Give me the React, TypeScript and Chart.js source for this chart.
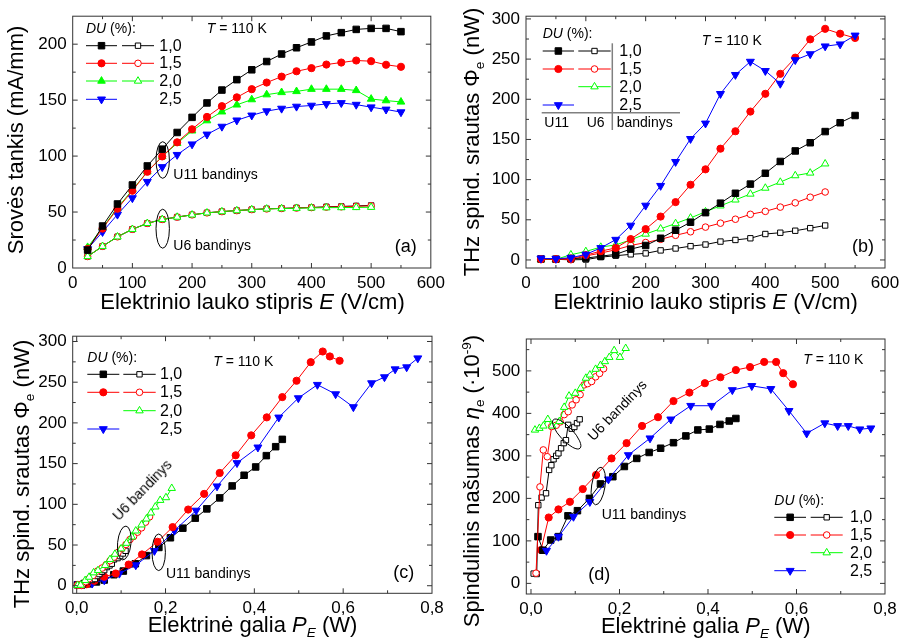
import React, { useEffect, useRef } from 'react';
import { Chart, registerables } from 'chart.js';
Chart.register(...registerables);

const FONT = '"Liberation Sans", Arial, Helvetica, sans-serif';

// ---------------- data ----------------
const E_U11 = [25, 50, 75, 100, 125, 150, 175, 200, 225, 250, 275, 300, 325, 350, 375, 400, 425, 450, 475, 500, 525, 550];
const E_U6 = [25, 50, 75, 100, 125, 150, 175, 200, 225, 250, 275, 300, 325, 350, 375, 400, 425, 450, 475, 500];

// current density J (mA/mm), panel (a)
const J_U11_10 = [16, 37.5, 57.2, 74.2, 91.2, 106.2, 121.1, 134.6, 147.5, 159, 168.3, 177.1, 184.5, 191.2, 196.8, 202, 207.4, 210.3, 213.2, 214.1, 214.1, 211.2];
const J_U11_15 = [17, 35.2, 53, 69, 86, 99.7, 112.3, 124, 135, 144.6, 152.5, 159.8, 165.7, 171, 175.8, 178.6, 181.8, 183.6, 185.4, 184.8, 181.6, 179.8];
const J_U11_20 = [18.5, 36, 53.7, 69.8, 86, 99.7, 111.4, 122.6, 131.7, 139.6, 145.8, 150.5, 154.9, 156.9, 157.8, 159.8, 159.8, 159.8, 158.7, 151, 149.6, 148.4];
const J_U11_25 = [17, 32.3, 47.8, 62.5, 77.1, 90.3, 101.2, 110.6, 119.4, 126.4, 132, 136.4, 140.2, 142.5, 144.3, 145.2, 146.6, 147.5, 146, 143.7, 141.7, 139.3];
const J_U6_10 = [10.3, 19.4, 27.9, 34.6, 39.9, 43.4, 45.5, 47.5, 49.3, 50.4, 51.3, 52.2, 52.9, 53.3, 53.7, 54.1, 54.7, 55.0, 55.5, 55.9];
const J_U6_15 = [10.3, 19.4, 27.9, 34.6, 39.9, 43.4, 45.5, 47.5, 49.3, 50.4, 51.3, 52.2, 52.8, 53.2, 53.6, 54.0, 54.4, 54.7, 55.1, 55.5];
const J_U6_20 = [10.3, 19.4, 27.9, 34.6, 39.9, 43.4, 45.5, 47.5, 49.3, 50.4, 51.3, 52.2, 52.8, 53.1, 53.4, 53.7, 53.9, 54.0, 54.1, 54.3];

// THz flux Phi_e (nW), panels (b) and (c)
const F_U11_10 = [1.2, 1.0, 1.9, 2.3, 4.7, 7.0, 13.5, 18, 27, 37, 47, 58.9, 70.7, 83, 94.4, 107.9, 122.6, 135.7, 145.9, 159.8, 170.8, 179.8];
const F_U11_15 = [1, 1, 1.8, 6, 11, 15, 26, 38.4, 54, 72, 93.6, 112.8, 138.5, 160.2, 184.7, 206.8, 231.7, 251.8, 274.6, 287.7, 281.6, 276.3];
const F_U11_25 = [2, 1.6, 2.8, 6.9, 15, 25.3, 42.9, 67.8, 92.4, 122.2, 150.8, 170, 206.8, 230.5, 246.9, 235.4, 219.5, 248.9, 256.3, 266, 268.5, 279.5];
const F_U6_10 = [0.8, 0.8, 0.2, 0.5, 3.5, 5.3, 7, 8.2, 11.9, 14.3, 17.2, 19.2, 22.9, 24.9, 27, 32.3, 33.9, 36.4, 39.6, 42.9];
const F_U6_15 = [0.4, 1, 0.3, 5, 8.6, 12.7, 18, 21.7, 25.7, 30.7, 35.1, 40.9, 45.8, 50.7, 56.8, 60.5, 65.8, 71.1, 78.1, 84.6];
const F_U6_20 = [0.4, 0.8, 6.5, 10.6, 16, 18.8, 25, 32.3, 38.8, 45.4, 52.3, 60, 67.4, 74.8, 82.1, 89.5, 96.9, 105, 108.3, 119.7];

// electric power P_E (W), panels (c) and (d)
const P_U11_10 = [0.0016, 0.0075, 0.0158, 0.027, 0.0445, 0.062, 0.0836, 0.105, 0.132, 0.157, 0.185, 0.211, 0.239, 0.267, 0.293, 0.322, 0.350, 0.377, 0.403, 0.427, 0.448, 0.463];
const P_U11_15 = [0.0026, 0.0106, 0.0226, 0.040, 0.062, 0.088, 0.117, 0.147, 0.182, 0.216, 0.251, 0.287, 0.322, 0.358, 0.393, 0.428, 0.463, 0.495, 0.527, 0.554, 0.570, 0.592];
const P_U11_25 = [0.0043, 0.016, 0.035, 0.062, 0.096, 0.133, 0.175, 0.22, 0.269, 0.316, 0.361, 0.408, 0.455, 0.499, 0.542, 0.583, 0.623, 0.664, 0.693, 0.717, 0.743, 0.768];
const P_U6_10 = [0.001, 0.0035, 0.006, 0.013, 0.0165, 0.024, 0.034, 0.041, 0.046, 0.051, 0.057, 0.062, 0.068, 0.074, 0.079, 0.084, 0.092, 0.098, 0.104, 0.110];
const P_U6_15 = [0.0016, 0.0058, 0.0113, 0.0203, 0.0278, 0.0368, 0.0467, 0.057, 0.066, 0.075, 0.084, 0.093, 0.102, 0.111, 0.12, 0.128, 0.137, 0.146, 0.155, 0.164];
const P_U6_20 = [0.002, 0.009, 0.019, 0.028, 0.038, 0.048, 0.064, 0.075, 0.086, 0.1, 0.112, 0.124, 0.133, 0.146, 0.157, 0.167, 0.177, 0.188, 0.201, 0.214];

// radiative efficiency eta_e (x1e-9), panel (d); first shown point index
const ETA_U11_10_START = 2;
const ETA_U11_10 = [110, 78, 102, 110, 159, 171, 200, 234, 251, 275, 294, 308, 318, 331, 347, 361, 363, 374, 382, 388];
const ETA_U11_15_START = 2;
const ETA_U11_15 = [78.5, 155, 174, 192, 222, 255, 294, 330, 370.5, 391, 429, 449, 471, 485, 502, 509, 521, 521, 494.6, 468.6];
const ETA_U11_25_START = 2;
const ETA_U11_25 = [77, 110, 157, 192, 245, 302, 341.5, 386, 418, 418, 455, 464.7, 457.7, 406, 353, 377, 370.5, 370.5, 362.7, 365];
const ETA_U6_10_START = 2;
const ETA_U6_10 = [23, 22, 184, 202, 212, 267, 278, 292, 300, 306, 318, 330, 337, 373, 364, 368, 377, 386];
const ETA_U6_15_START = 2;
const ETA_U6_15 = [24, 227, 314, 298, 369, 372, 380, 397, 404, 420, 432, 444, 467, 470, 475, 486, 494, 505];
const ETA_U6_20_START = 1;
const ETA_U6_20 = [361, 365, 370.5, 386, 370.5, 381, 414.5, 441, 447.5, 459, 483, 490.6, 504, 513, 522, 532, 548, 532, 553];

const DU_LABELS = ['1,0', '1,5', '2,0', '2,5'];

// axis tick values
const TICKS_E = [0, 100, 200, 300, 400, 500, 600];
const TICKS_J = [0, 50, 100, 150, 200];
const TICKS_F = [0, 50, 100, 150, 200, 250, 300];
const TICKS_P = [0, 0.2, 0.4, 0.6, 0.8];
const TICKS_ETA = [0, 100, 200, 300, 400, 500];

// ---------------- styles ----------------
type Shape = 'rect' | 'circle' | 'triangle' | 'down';
interface St { color: string; shape: Shape; filled: boolean; r: number }
const ST: Record<string, St> = {
  b11: { color: '#000000', shape: 'rect', filled: true, r: 4.6 },
  r11: { color: '#ff0000', shape: 'circle', filled: true, r: 3.6 },
  g11: { color: '#00ff00', shape: 'triangle', filled: true, r: 4.4 },
  bl11: { color: '#0000ff', shape: 'down', filled: true, r: 4.6 },
  b6: { color: '#000000', shape: 'rect', filled: false, r: 3.8 },
  r6: { color: '#ff0000', shape: 'circle', filled: false, r: 3.3 },
  g6: { color: '#00ff00', shape: 'triangle', filled: false, r: 4.3 },
};

function ds(xs: number[], ys: number[], st: St, order: number, start = 0) {
  const data = ys.map((y, i) => ({ x: xs[i + start], y }));
  return {
    data,
    showLine: true,
    borderColor: st.color,
    borderWidth: 1,
    pointStyle: st.shape === 'down' ? 'triangle' : st.shape,
    pointRotation: st.shape === 'down' ? 180 : 0,
    pointRadius: st.r,
    pointHoverRadius: st.r,
    pointBackgroundColor: st.filled ? st.color : '#ffffff',
    pointBorderColor: st.color,
    pointBorderWidth: 1,
    tension: 0,
    fill: false,
    order,
  };
}

function drawMarker(ctx: CanvasRenderingContext2D, st: St, x: number, y: number) {
  const r = st.r;
  ctx.beginPath();
  if (st.shape === 'rect') {
    const s = Math.SQRT1_2 * r;
    ctx.rect(x - s, y - s, 2 * s, 2 * s);
  } else if (st.shape === 'circle') {
    ctx.arc(x, y, r, 0, Math.PI * 2);
  } else {
    const d = st.shape === 'down' ? -1 : 1;
    ctx.moveTo(x, y - d * r);
    ctx.lineTo(x + 0.866 * r, y + d * 0.5 * r);
    ctx.lineTo(x - 0.866 * r, y + d * 0.5 * r);
    ctx.closePath();
  }
  ctx.fillStyle = st.filled ? st.color : '#ffffff';
  ctx.fill();
  ctx.strokeStyle = st.color;
  ctx.lineWidth = 1;
  ctx.stroke();
}

interface LegendRow { y: number; s1?: string; s2?: string }
interface PanelSpec {
  id: string;
  left: number; top: number; w: number; h: number;
  yW: number; xH: number; padTop: number; padRight: number;
  x: { min: number; max: number; ticks: number[]; dec: number };
  y: { min: number; max: number; ticks: number[] };
  datasets: any[];
  legend: { rows: LegendRow[]; seg1: [number, number]; seg2: [number, number] };
  ellipses: { cx: number; cy: number; rx: number; ry: number; rot: number }[];
  lines?: [number, number, number, number][];
}

function makePlugin(p: PanelSpec) {
  return {
    id: 'deco' + p.id,
    afterDraw(chart: any) {
      const ctx: CanvasRenderingContext2D = chart.ctx;
      const a = chart.chartArea;
      ctx.save();
      ctx.strokeStyle = '#333333';
      ctx.lineWidth = 1;
      const doTicks = (scale: any, majors: number[], horiz: boolean) => {
        const step = majors[1] - majors[0];
        const minors: number[] = [];
        for (let k = -1; k < majors.length + 1; k++) {
          const v = majors[0] + (k + 0.5) * step;
          if (v > scale.min + 1e-9 && v < scale.max - 1e-9) minors.push(v);
        }
        const draw = (v: number, len: number) => {
          const px = scale.getPixelForValue(v);
          ctx.beginPath();
          if (horiz) {
            ctx.moveTo(px, a.bottom); ctx.lineTo(px, a.bottom - len);
            ctx.moveTo(px, a.top); ctx.lineTo(px, a.top + len);
          } else {
            ctx.moveTo(a.left, px); ctx.lineTo(a.left + len, px);
            ctx.moveTo(a.right, px); ctx.lineTo(a.right - len, px);
          }
          ctx.stroke();
        };
        majors.filter((v) => v > scale.min && v < scale.max).forEach((v) => draw(v, 5));
        minors.forEach((v) => draw(v, 3));
      };
      doTicks(chart.scales.x, p.x.ticks, true);
      doTicks(chart.scales.y, p.y.ticks, false);
      ctx.strokeRect(a.left, a.top, a.right - a.left, a.bottom - a.top);

      // legend samples
      const ox = p.left, oy = p.top;
      p.legend.rows.forEach((row) => {
        const y = row.y - oy;
        ([['s1', p.legend.seg1], ['s2', p.legend.seg2]] as const).forEach(([k, seg]) => {
          const key = (row as any)[k];
          if (!key) return;
          const st = ST[key];
          ctx.beginPath();
          ctx.strokeStyle = st.color;
          ctx.lineWidth = 1;
          ctx.moveTo(seg[0] - ox, y);
          ctx.lineTo(seg[1] - ox, y);
          ctx.stroke();
          drawMarker(ctx, st, (seg[0] + seg[1]) / 2 - ox, y);
        });
      });
      if (p.lines) {
        ctx.strokeStyle = '#808080';
        ctx.lineWidth = 1.5;
        p.lines.forEach(([x1, y1, x2, y2]) => {
          ctx.beginPath();
          ctx.moveTo(x1 - ox, y1 - oy);
          ctx.lineTo(x2 - ox, y2 - oy);
          ctx.stroke();
        });
      }
      ctx.strokeStyle = '#000000';
      ctx.lineWidth = 1;
      p.ellipses.forEach((e) => {
        ctx.beginPath();
        ctx.ellipse(e.cx - ox, e.cy - oy, e.rx, e.ry, e.rot, 0, Math.PI * 2);
        ctx.stroke();
      });
      ctx.restore();
    },
  };
}

function makeConfig(p: PanelSpec): any {
  const tickFont = { family: FONT, size: 17 };
  const fmt = (v: number) => (p.x.dec > 0 ? v.toFixed(p.x.dec).replace('.', ',') : String(Math.round(v)));
  return {
    type: 'scatter',
    data: { datasets: p.datasets },
    options: {
      animation: false,
      responsive: false,
      maintainAspectRatio: false,
      events: [],
      layout: { padding: { left: 0, top: p.padTop, right: p.padRight, bottom: 0 } },
      plugins: { legend: { display: false }, tooltip: { enabled: false } },
      scales: {
        x: {
          type: 'linear',
          min: p.x.min,
          max: p.x.max,
          afterBuildTicks: (s: any) => { s.ticks = p.x.ticks.map((v) => ({ value: v })); },
          ticks: { font: tickFont, color: '#000', padding: 5, maxRotation: 0, autoSkip: false, callback: (v: number) => fmt(v) },
          grid: { display: false, drawTicks: false },
          border: { display: false },
          afterFit: (s: any) => { s.height = p.xH; },
        },
        y: {
          type: 'linear',
          min: p.y.min,
          max: p.y.max,
          afterBuildTicks: (s: any) => { s.ticks = p.y.ticks.map((v) => ({ value: v })); },
          ticks: { font: tickFont, color: '#000', padding: 6, autoSkip: false, callback: (v: number) => String(Math.round(v)) },
          grid: { display: false, drawTicks: false },
          border: { display: false },
          afterFit: (s: any) => { s.width = p.yW; },
        },
      },
    },
    plugins: [makePlugin(p)],
  };
}

// ---------------- panels ----------------
const PANEL_A: PanelSpec = {
  id: 'a', left: 0, top: 0, w: 450, h: 320, yW: 72.7, xH: 52, padTop: 12, padRight: 18,
  x: { min: 0, max: 600, ticks: TICKS_E, dec: 0 }, y: { min: 0, max: 225, ticks: TICKS_J },
  datasets: [
    ds(E_U11, J_U11_10, ST.b11, 0),
    ds(E_U11, J_U11_15, ST.r11, 1),
    ds(E_U11, J_U11_20, ST.g11, 2),
    ds(E_U11, J_U11_25, ST.bl11, 3),
    ds(E_U6, J_U6_20, ST.g6, 4),
    ds(E_U6, J_U6_15, ST.r6, 5),
    ds(E_U6, J_U6_10, ST.b6, 6),
  ],
  legend: { rows: [{ y: 45.7, s1: 'b11', s2: 'b6' }, { y: 63.3, s1: 'r11', s2: 'r6' }, { y: 81, s1: 'g11', s2: 'g6' }, { y: 99.3, s1: 'bl11' }], seg1: [86, 117], seg2: [122, 154] },
  ellipses: [{ cx: 162.7, cy: 160, rx: 6.7, ry: 18.3, rot: 0 }, { cx: 162.7, cy: 228.7, rx: 6.7, ry: 19.5, rot: 0 }],
};

const PANEL_B: PanelSpec = {
  id: 'b', left: 450, top: 0, w: 455, h: 320, yW: 76, xH: 52, padTop: 12, padRight: 20,
  x: { min: 0, max: 600, ticks: TICKS_E, dec: 0 }, y: { min: -10, max: 303.4, ticks: TICKS_F },
  datasets: [
    ds(E_U11, F_U11_25, ST.bl11, 0),
    ds(E_U11, F_U11_15, ST.r11, 1),
    ds(E_U11, F_U11_10, ST.b11, 2),
    ds(E_U6, F_U6_20, ST.g6, 3),
    ds(E_U6, F_U6_15, ST.r6, 4),
    ds(E_U6, F_U6_10, ST.b6, 5),
  ],
  legend: { rows: [{ y: 51, s1: 'b11', s2: 'b6' }, { y: 69, s1: 'r11', s2: 'r6' }, { y: 86.7, s2: 'g6' }, { y: 105, s1: 'bl11' }], seg1: [542.7, 574], seg2: [578.3, 610.7] },
  ellipses: [],
  lines: [[612.3, 43.3, 612.3, 130], [541.7, 112.7, 680, 112.7]],
};

const PANEL_C: PanelSpec = {
  id: 'c', left: 0, top: 320, w: 450, h: 323, yW: 72.7, xH: 49.7, padTop: 15.7, padRight: 18,
  x: { min: -0.009, max: 0.8, ticks: TICKS_P, dec: 1 }, y: { min: -9.3, max: 306.5, ticks: TICKS_F },
  datasets: [
    ds(P_U6_20, F_U6_20, ST.g6, 0),
    ds(P_U6_15, F_U6_15, ST.r6, 1),
    ds(P_U6_10, F_U6_10, ST.b6, 2),
    ds(P_U11_15, F_U11_15, ST.r11, 3),
    ds(P_U11_25, F_U11_25, ST.bl11, 4),
    ds(P_U11_10, F_U11_10, ST.b11, 5),
  ],
  legend: { rows: [{ y: 374.3, s1: 'b11', s2: 'b6' }, { y: 392.3, s1: 'r11', s2: 'r6' }, { y: 410.7, s2: 'g6' }, { y: 429, s1: 'bl11' }], seg1: [87.3, 119.3], seg2: [123.3, 155.7] },
  ellipses: [{ cx: 124.3, cy: 543, rx: 6.7, ry: 17, rot: 0.1 }, { cx: 158.7, cy: 552.3, rx: 6.7, ry: 18.3, rot: 0 }],
};

const PANEL_D: PanelSpec = {
  id: 'd', left: 450, top: 320, w: 455, h: 323, yW: 76.3, xH: 49, padTop: 19, padRight: 20,
  x: { min: -0.0106, max: 0.8, ticks: TICKS_P, dec: 1 }, y: { min: -25, max: 575, ticks: TICKS_ETA },
  datasets: [
    ds(P_U6_20, ETA_U6_20, ST.g6, 0, ETA_U6_20_START),
    ds(P_U6_15, ETA_U6_15, ST.r6, 1, ETA_U6_15_START),
    ds(P_U6_10, ETA_U6_10, ST.b6, 2, ETA_U6_10_START),
    ds(P_U11_25, ETA_U11_25, ST.bl11, 3, ETA_U11_25_START),
    ds(P_U11_10, ETA_U11_10, ST.b11, 4, ETA_U11_10_START),
    ds(P_U11_15, ETA_U11_15, ST.r11, 5, ETA_U11_15_START),
  ],
  legend: { rows: [{ y: 517.3, s1: 'b11', s2: 'b6' }, { y: 535, s1: 'r11', s2: 'r6' }, { y: 552.7, s2: 'g6' }, { y: 570.7, s1: 'bl11' }], seg1: [774.3, 806], seg2: [810.7, 842.7] },
  ellipses: [{ cx: 566.7, cy: 434, rx: 19.5, ry: 6.7, rot: 0.82 }, { cx: 598.3, cy: 486, rx: 6.7, ry: 19, rot: 0.15 }],
};

// ---------------- components ----------------
function ChartPanel({ spec }: { spec: PanelSpec }) {
  const ref = useRef<HTMLCanvasElement | null>(null);
  useEffect(() => {
    if (!ref.current) return;
    const chart = new Chart(ref.current, makeConfig(spec));
    return () => chart.destroy();
  }, [spec]);
  return (
    <canvas
      ref={ref}
      width={spec.w}
      height={spec.h}
      style={{ position: 'absolute', left: spec.left, top: spec.top, width: spec.w, height: spec.h, display: 'block' }}
    />
  );
}

const BASE: React.CSSProperties = { position: 'absolute', fontFamily: FONT, color: '#000', whiteSpace: 'nowrap', lineHeight: 1 };

function Txt({ x, y, align = 'left', size = 14, rot = 0, children }: { x: number; y: number; align?: 'left' | 'center' | 'right'; size?: number; rot?: number; children: React.ReactNode }) {
  const tx = align === 'left' ? '0' : align === 'right' ? '-100%' : '-50%';
  return (
    <div style={{ ...BASE, left: x, top: y, fontSize: size, transform: `translate(${tx}, -50%) rotate(${rot}deg)`, transformOrigin: align === 'center' ? '50% 50%' : '0 50%' }}>
      {children}
    </div>
  );
}

const Sub = ({ children }: { children: React.ReactNode }) => (
  <span style={{ fontSize: '0.62em', position: 'relative', top: '0.4em' }}>{children}</span>
);
const Sup = ({ children }: { children: React.ReactNode }) => (
  <span style={{ fontSize: '0.62em', position: 'relative', top: '-0.6em' }}>{children}</span>
);

function DuHeader({ x, y }: { x: number; y: number }) {
  return (
    <Txt x={x} y={y}>
      <i>DU</i> (%):
    </Txt>
  );
}
function TLabel({ x, y }: { x: number; y: number }) {
  return (
    <Txt x={x} y={y}>
      <i>T</i> = 110 K
    </Txt>
  );
}
function DuLabels({ x, ys }: { x: number; ys: number[] }) {
  return (
    <>
      {ys.map((y, i) => (
        <Txt key={i} x={x} y={y} size={16}>{DU_LABELS[i]}</Txt>
      ))}
    </>
  );
}

export default function App() {
  return (
    <div style={{ position: 'absolute', left: 0, top: 0, width: 905, height: 643, background: '#fff', overflow: 'hidden' }}>
      <ChartPanel spec={PANEL_A} />
      <ChartPanel spec={PANEL_B} />
      <ChartPanel spec={PANEL_C} />
      <ChartPanel spec={PANEL_D} />

      {/* panel (a) */}
      <Txt x={15.5} y={140} align="center" size={22} rot={-90}>Srovės tankis (mA/mm)</Txt>
      <Txt x={252.5} y={301.7} align="center" size={22}>Elektrinio lauko stipris <i>E</i> (V/cm)</Txt>
      <DuHeader x={86} y={28} />
      <DuLabels x={159.3} ys={[45.7, 63.3, 81, 99.3]} />
      <TLabel x={206.7} y={28.3} />
      <Txt x={173.3} y={174.3}>U11 bandinys</Txt>
      <Txt x={173.3} y={245}>U6 bandinys</Txt>
      <Txt x={416.7} y={246} align="right" size={18}>(a)</Txt>

      {/* panel (b) */}
      <Txt x={472} y={141.7} align="center" size={22} rot={-90}>THz spind. srautas Φ<Sub>e</Sub> (nW)</Txt>
      <Txt x={705.7} y={301.7} align="center" size={22}>Elektrinio lauko stipris <i>E</i> (V/cm)</Txt>
      <DuHeader x={542.7} y={33.3} />
      <DuLabels x={619.3} ys={[51, 69, 86.7, 105]} />
      <Txt x={556.7} y={122.3} align="center">U11</Txt>
      <Txt x={595.7} y={122.3} align="center">U6</Txt>
      <Txt x={616.7} y={122.3}>bandinys</Txt>
      <TLabel x={701.7} y={40} />
      <Txt x={874} y={246} align="right" size={18}>(b)</Txt>

      {/* panel (c) */}
      <Txt x={22} y={474} align="center" size={22} rot={-90}>THz spind. srautas Φ<Sub>e</Sub> (nW)</Txt>
      <Txt x={252.5} y={625} align="center" size={22}>Elektrinė galia <i>P</i><Sub><i>E</i></Sub> (W)</Txt>
      <DuHeader x={87.3} y={357.3} />
      <DuLabels x={160} ys={[374.3, 392.3, 410.7, 429]} />
      <TLabel x={213.3} y={360.7} />
      <Txt x={142.3} y={490} align="center" rot={-46}>U6 bandinys</Txt>
      <Txt x={166} y={573.3}>U11 bandinys</Txt>
      <Txt x={414.3} y={572.3} align="right" size={18}>(c)</Txt>

      {/* panel (d) */}
      <Txt x={472} y={480.7} align="center" size={22} rot={-90}>Spindulinis našumas <i>η</i><Sub>e</Sub> (·10<Sup>-9</Sup>)</Txt>
      <Txt x={705.7} y={626} align="center" size={22}>Elektrinė galia <i>P</i><Sub><i>E</i></Sub> (W)</Txt>
      <DuHeader x={774.3} y={500} />
      <DuLabels x={850} ys={[517.3, 535, 552.7, 570.7]} />
      <TLabel x={803.3} y={359.3} />
      <Txt x={617.3} y={410} align="center" rot={-46}>U6 bandinys</Txt>
      <Txt x={601.7} y={514.3}>U11 bandinys</Txt>
      <Txt x={588.3} y={574} size={18}>(d)</Txt>
    </div>
  );
}
